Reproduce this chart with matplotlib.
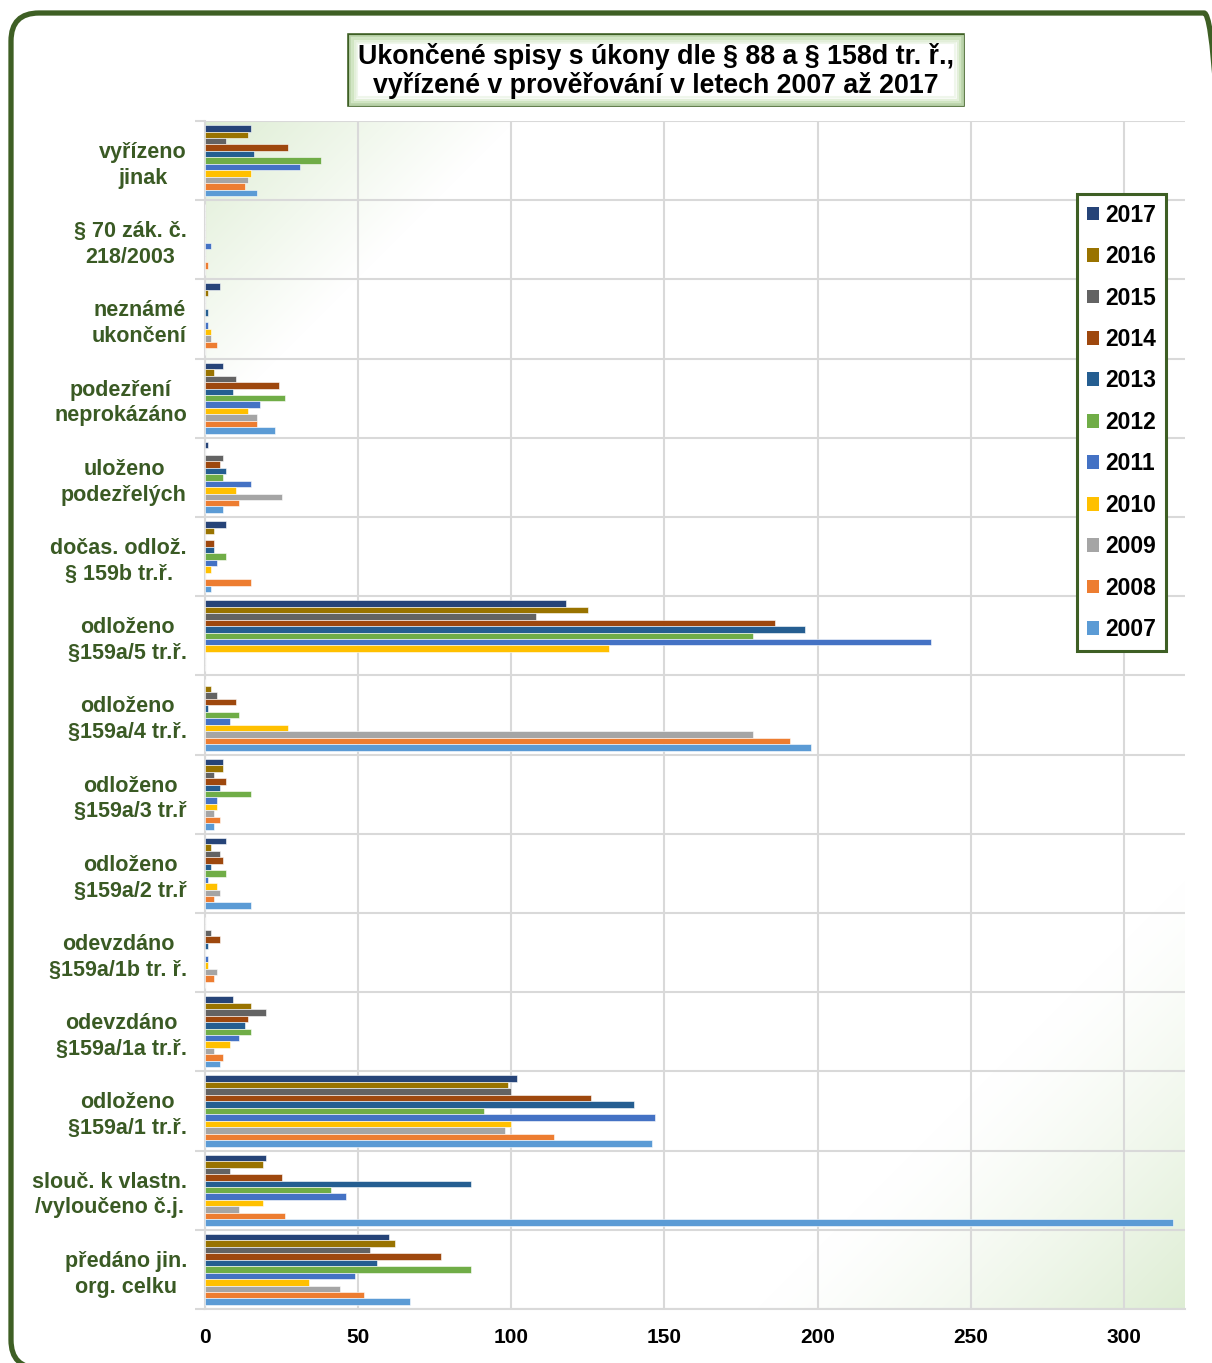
import numpy as np
import matplotlib
matplotlib.use("Agg")
import matplotlib.pyplot as plt
from matplotlib.patches import FancyBboxPatch, Rectangle

plt.rcParams['font.family'] = ['Liberation Sans', 'DejaVu Sans']

categories = [
    "vyřízeno\njinak",
    "§ 70 zák. č.\n218/2003",
    "neznámé\nukončení",
    "podezření\nneprokázáno",
    "uloženo\npodezřelých",
    "dočas. odlož.\n§ 159b tr.ř.",
    "odloženo\n§159a/5 tr.ř.",
    "odloženo\n§159a/4 tr.ř.",
    "odloženo\n§159a/3 tr.ř",
    "odloženo\n§159a/2 tr.ř",
    "odevzdáno\n§159a/1b tr. ř.",
    "odevzdáno\n§159a/1a tr.ř.",
    "odloženo\n§159a/1 tr.ř.",
    "slouč. k vlastn.\n/vyloučeno č.j.",
    "předáno jin.\norg. celku",
]

years = ["2017", "2016", "2015", "2014", "2013", "2012", "2011", "2010", "2009", "2008", "2007"]

v2017 = [15, 0, 5, 6, 1, 7, 118, 0, 6, 7, 0, 9, 102, 20, 60]
v2016 = [14, 0, 1, 3, 0, 3, 125, 2, 6, 2, 0, 15, 99, 19, 62]
v2015 = [7, 0, 0, 10, 6, 0, 108, 4, 3, 5, 2, 20, 100, 8, 54]
v2014 = [27, 0, 0, 24, 5, 3, 186, 10, 7, 6, 5, 14, 126, 25, 77]
v2013 = [16, 0, 1, 9, 7, 3, 196, 1, 5, 2, 1, 13, 140, 87, 56]
v2012 = [38, 0, 0, 26, 6, 7, 179, 11, 15, 7, 0, 15, 91, 41, 87]
v2011 = [31, 2, 1, 18, 15, 4, 237, 8, 4, 1, 1, 11, 147, 46, 49]
v2010 = [15, 0, 2, 14, 10, 2, 132, 27, 4, 4, 1, 8, 100, 19, 34]
v2009 = [14, 0, 2, 17, 25, 0, 0, 179, 3, 5, 4, 3, 98, 11, 44]
v2008 = [13, 1, 4, 17, 11, 15, 0, 191, 5, 3, 3, 6, 114, 26, 52]
v2007 = [17, 0, 0, 23, 6, 2, 0, 198, 3, 15, 0, 5, 146, 316, 67]

series = [v2017, v2016, v2015, v2014, v2013, v2012, v2011, v2010, v2009, v2008, v2007]
colors = ["#264478", "#997300", "#636363", "#9e480e", "#255e91", "#70ad47",
          "#4472c4", "#ffc000", "#a5a5a5", "#ed7d31", "#5b9bd5"]

xticks = [0, 50, 100, 150, 200, 250, 300]

title = "Ukončené spisy s úkony dle § 88 a § 158d tr. ř.,\nvyřízené v prověřování v letech 2007 až 2017"

W, H = 1212, 1363
fig = plt.figure(figsize=(W / 100, H / 100), dpi=100)
fig.patch.set_facecolor("white")

green_dark = "#3e5f24"
label_green = "#3a5a24"

# axes rect from pixel coordinates
L, R, T, B = 205, 1185, 121, 1309
rect = [L / W, 1 - B / H, (R - L) / W, (B - T) / H]

# background gradient axes
bg = fig.add_axes(rect, zorder=0)
pw, ph = R - L, B - T
xx, yy = np.meshgrid(np.arange(pw), np.arange(ph))
d1 = xx + yy
t1 = np.clip(1 - d1 / 310.0, 0, 1) ** 1.05
d2 = (pw - xx) + (ph - yy)
t2 = np.clip(1 - d2 / 430.0, 0, 1) ** 1.3
t = np.maximum(t1, t2)
g = np.array([0.87, 0.93, 0.83])
img = np.ones((ph, pw, 3)) * (1 - t[..., None]) + g * t[..., None]
bg.imshow(img, extent=(0, 1, 0, 1), aspect="auto", interpolation="bilinear")
bg.axis("off")

ax = fig.add_axes(rect, zorder=1)
ax.set_facecolor("none")

n = len(series)
h = 0.0815
ypos = np.arange(len(categories))
for i, (vals, c, yr) in enumerate(zip(series, colors, years)):
    ax.barh(ypos + (i - (n - 1) / 2) * h, vals, height=h, color=c, label=yr,
            edgecolor="white", linewidth=0.4, zorder=3)

ax.set_xlim(0, 320)
ax.set_ylim(len(categories) - 0.5, -0.5)
ax.set_xticks(xticks)
ax.set_xticklabels([str(x) for x in xticks], fontsize=15, fontweight="bold", color="black")
ax.set_yticks(ypos)
ax.set_yticklabels(categories, fontsize=15.5, fontweight="bold", color=label_green,
                   multialignment="center", linespacing=1.3)
ax.set_yticks(np.arange(-0.5, len(categories), 1.0), minor=True)
ax.tick_params(axis="y", which="major", length=0, pad=13)
ax.tick_params(axis="y", which="minor", length=7, color="#d9d9d9", width=1.5)
ax.tick_params(axis="x", which="major", length=0, pad=14)
ax.grid(axis="x", which="major", color="#d9d9d9", linewidth=1.5, zorder=1)
ax.grid(axis="y", which="minor", color="#d9d9d9", linewidth=1.5, zorder=1)
ax.set_axisbelow(True)
for s in ["top", "right"]:
    ax.spines[s].set_visible(False)
for s in ["left", "bottom"]:
    ax.spines[s].set_color("#d9d9d9")
    ax.spines[s].set_linewidth(1.5)

leg = ax.legend(loc="upper left", bbox_to_anchor=(1077 / W, 1 - 194 / H),
                bbox_transform=fig.transFigure, borderaxespad=0,
                prop={"weight": "bold", "size": 16.5}, frameon=True, fancybox=False,
                edgecolor=green_dark, framealpha=1, borderpad=0.42, labelspacing=0.805,
                handlelength=0.55, handleheight=0.55, handletextpad=0.25)
leg.get_frame().set_linewidth(2.2)
for hnd in leg.legend_handles:
    hnd.set_edgecolor("none")

# title box
tx0, ty0, tx1, ty1 = 349, 35, 963, 105
for k, a in enumerate([0.35, 0.22, 0.12]):
    inset = 2 + k * 3
    fig.patches.append(Rectangle(((tx0 + inset) / W, 1 - (ty1 - inset) / H),
                                 (tx1 - tx0 - 2 * inset) / W, (ty1 - ty0 - 2 * inset) / H,
                                 transform=fig.transFigure, facecolor="none",
                                 edgecolor=(0.80, 0.89, 0.74, 1), linewidth=3.5 - k,
                                 alpha=a * 2.5, zorder=2))
fig.patches.append(Rectangle((tx0 / W, 1 - ty1 / H), (tx1 - tx0) / W, (ty1 - ty0) / H,
                             transform=fig.transFigure, facecolor="white",
                             edgecolor=green_dark, linewidth=2.6, zorder=1))
fig.text((tx0 + tx1) / 2 / W, 1 - 71 / H, title, ha="center", va="center",
         fontsize=19.3, fontweight="bold", color="black", linespacing=1.1, zorder=5)

# outer rounded border (pixel coordinates, origin bottom-left)
bx0, bx1 = 11, 1232
by_top, by_bot = 13, 1368
fig.patches.append(FancyBboxPatch((bx0 / W, 1 - by_bot / H), (bx1 - bx0) / W,
                                  (by_bot - by_top) / H,
                                  boxstyle="round,pad=0,rounding_size=%f" % (28 / W),
                                  mutation_aspect=W / H,
                                  transform=fig.transFigure, facecolor="none",
                                  edgecolor=green_dark, linewidth=3.8, zorder=10))

fig.savefig("out.png", dpi=100, facecolor="white")
